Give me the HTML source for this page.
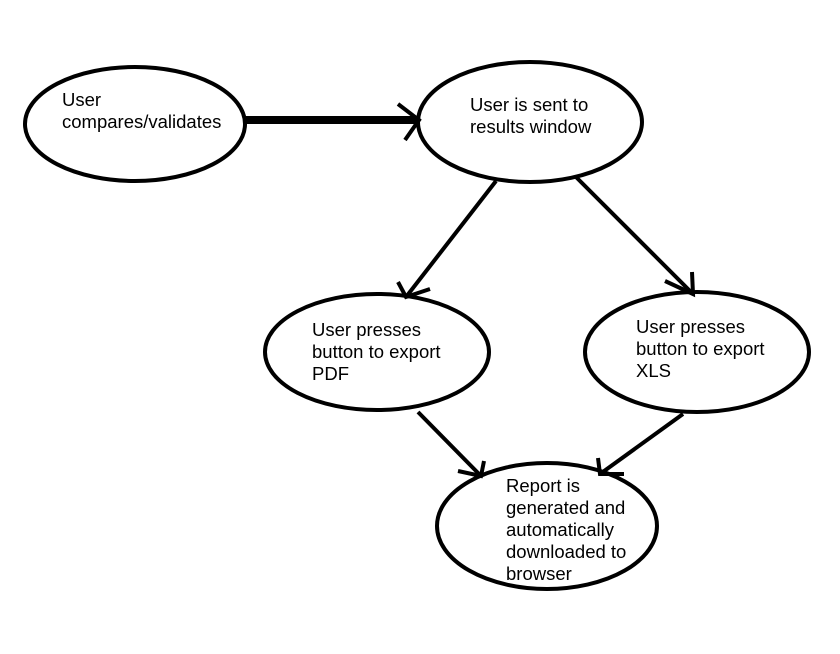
<!DOCTYPE html>
<html><head><style>
body{margin:0;background:#fff;width:840px;height:654px;overflow:hidden;position:relative;font-family:"Liberation Sans",Arial,sans-serif}
.t{position:absolute;font-size:18.5px;line-height:22px;color:#000;white-space:nowrap}
svg{position:absolute;left:0;top:0}
</style></head><body>
<svg width="840" height="654" viewBox="0 0 840 654" fill="none" stroke="#000" stroke-width="4">
<ellipse cx="135" cy="124" rx="110" ry="57"/>
<ellipse cx="530" cy="122" rx="112" ry="60"/>
<ellipse cx="377" cy="352" rx="112" ry="58"/>
<ellipse cx="697" cy="352" rx="112" ry="60"/>
<ellipse cx="547" cy="526" rx="110" ry="63"/>
<line x1="245" y1="120" x2="418" y2="120" stroke-width="8"/>
<polyline points="398,104 419,120 405,140"/>
<line x1="496" y1="181" x2="406" y2="297"/>
<polyline points="398,282 406,297 430,289"/>
<line x1="576" y1="177" x2="693" y2="294"/>
<polyline points="665,281 693,294 692,272"/>
<line x1="418" y1="412" x2="481" y2="476"/>
<polyline points="458,471 481,476 484,461"/>
<line x1="683" y1="414" x2="600" y2="474"/>
<polyline points="598,458 600,474 624,474"/>
</svg>
<div class="t" style="left:62px;top:89px">User<br>compares/validates</div>
<div class="t" style="left:470px;top:94px">User is sent to<br>results window</div>
<div class="t" style="left:312px;top:319px">User presses<br>button to export<br>PDF</div>
<div class="t" style="left:636px;top:316px">User presses<br>button to export<br>XLS</div>
<div class="t" style="left:506px;top:475px">Report is<br>generated and<br>automatically<br>downloaded to<br>browser</div>
</body></html>
